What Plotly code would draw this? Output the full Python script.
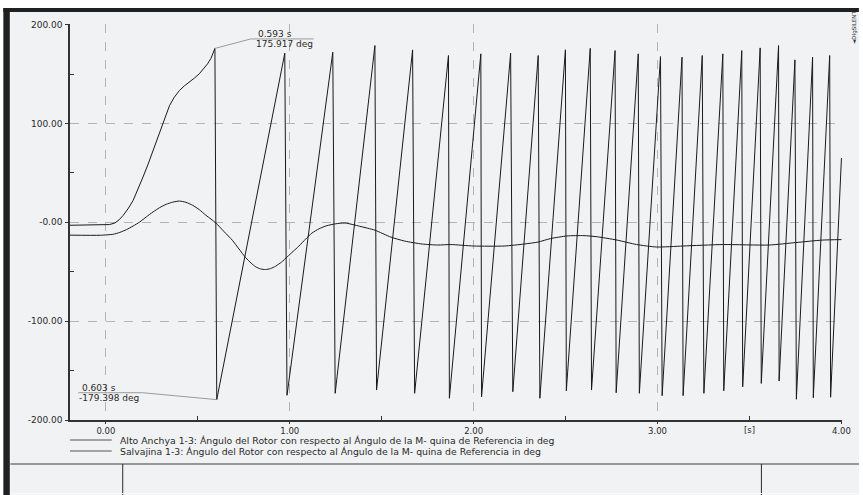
import plotly.graph_objects as go

# ---------------- data ----------------
series_names = [
    "Alto Anchya 1-3: Ángulo del Rotor con respecto al Ángulo de la M- quina de Referencia in deg",
    "Salvajina 1-3: Ángulo del Rotor con respecto al Ángulo de la M- quina de Referencia in deg",
]

# Alto Anchya 1-3 rotor angle (wraps between +180 and -180) [s], [deg]
alto_t = [-0.195, 0.0, 0.02, 0.049, 0.072, 0.094, 0.12, 0.148, 0.175, 0.202, 0.23, 0.256,
          0.28, 0.301, 0.324, 0.346, 0.372, 0.4, 0.427, 0.454, 0.481, 0.508, 0.532, 0.553,
          0.572, 0.583, 0.593, 0.603,
          0.973, 0.985, 1.234, 1.247, 1.463, 1.472, 1.668, 1.679, 1.863, 1.868,
          2.039, 2.043, 2.201, 2.213, 2.351, 2.360, 2.499, 2.504, 2.634, 2.641,
          2.769, 2.775, 2.895, 2.901, 3.016, 3.025, 3.133, 3.139, 3.243, 3.252,
          3.355, 3.360, 3.458, 3.463, 3.558, 3.564, 3.658, 3.661, 3.747, 3.755,
          3.843, 3.847, 3.936, 3.941, 4.0]
alto_v = [-3, -3, -2.3, -0.7, 2.5, 7, 13.5, 22, 33, 45.8, 59, 72.7,
          85, 96.3, 107.5, 118, 126.5, 133.3, 138, 141.7, 145.8, 150.2, 155, 160.3,
          166, 170.5, 175.917, -179.398,
          171, -175, 172, -173, 178.8, -169.7, 174.4, -173, 168.7, -178,
          170.4, -176.5, 171, -171.4, 168.7, -178, 174.5, -170.5, 176, -169.7,
          173.7, -172.4, 170.4, -173, 167.7, -175.4, 167, -175.4, 168.7, -173,
          170.4, -170.4, 173.7, -166.4, 176.4, -163, 178.8, -160.6, 164.3, -179,
          167, -177.5, 168.7, -177, 65]

# Salvajina 1-3 rotor angle [s], [deg]
salv_t = [-0.195, -0.03, 0.04, 0.076, 0.112, 0.148, 0.184, 0.22, 0.256, 0.292, 0.328, 0.364,
          0.4, 0.436, 0.472, 0.508, 0.544, 0.572, 0.598, 0.643, 0.688, 0.724, 0.76, 0.79,
          0.815, 0.842, 0.868, 0.896, 0.923, 0.955, 0.986, 1.018, 1.049, 1.085, 1.12, 1.16,
          1.2, 1.25, 1.3, 1.38, 1.463, 1.55, 1.625, 1.72, 1.805, 1.876, 2.0, 2.166, 2.274,
          2.35, 2.418, 2.508, 2.6, 2.67, 2.78, 2.886, 2.995, 3.139, 3.355, 3.607, 3.751,
          3.896, 4.0]
salv_v = [-13, -13.1, -12.1, -10.2, -7.4, -3.8, 0.3, 5.5, 10.4, 14.8, 18.2, 20.4,
          21.5, 20.2, 17.2, 12.8, 7.1, 3.2, -0.7, -9.5, -18.2, -27, -35.7, -41.3,
          -45.1, -47.2, -47.8, -46.8, -44.4, -40.3, -35, -29.5, -24.2, -17.2, -11, -6.5,
          -3.5, -1.5, -0.7, -4, -8, -15, -19, -22, -23, -22.5, -24, -24, -22,
          -20, -16.5, -13.8, -13.5, -14.6, -18, -22.5, -25, -24, -22.5, -23, -20.5,
          -18, -17.5]

x_tick_vals = [0, 1, 2, 3, 4]
x_tick_text = ["0.00", "1.00", "2.00", "3.00", "4.00"]
x_minor_vals = [0.5, 1.5, 2.5, 3.5]
x_unit_label = "[s]"
x_unit_pos = 3.5
y_tick_vals = [-200, -100, 0, 100, 200]
y_tick_text = ["-200.00", "-100.00", "-0.00", "100.00", "200.00"]
y_minor_vals = [-150, -50, 50, 150]

# marked points (peak before wrap, value after wrap)
mark_hi = (0.593, 175.917)
mark_lo = (0.603, -179.398)

# ---------------- layout helpers ----------------
W, H = 863, 495
L, R, T, B = 70, 17, 24, 75
PW, PH = W - L - R, H - T - B


def px(xp):
    return (xp - L) / PW


def py(yp):
    return (H - B - yp) / PH


FONT = "DejaVu Sans, Liberation Sans, sans-serif"
TXT = "#2a2a2a"
LINE = "#1a1a1a"
BG = "#f1f2f4"

fig = go.Figure()
fig.add_trace(go.Scatter(x=alto_t, y=alto_v, mode="lines", name=series_names[0],
                         line=dict(color=LINE, width=1), showlegend=False))
fig.add_trace(go.Scatter(x=salv_t, y=salv_v, mode="lines", name=series_names[1],
                         line=dict(color=LINE, width=1, shape="spline", smoothing=0.6), showlegend=False))

shapes = []
# background panel and frame
shapes.append(dict(type="rect", xref="paper", yref="paper", x0=px(10), x1=px(W), y0=py(H), y1=py(12),
                   fillcolor=BG, line=dict(width=0), layer="below"))
shapes.append(dict(type="rect", xref="paper", yref="paper", x0=px(3), x1=px(W), y0=py(12), y1=py(8),
                   fillcolor="#202020", line=dict(width=0)))
shapes.append(dict(type="rect", xref="paper", yref="paper", x0=px(3), x1=px(9.5), y0=py(H), y1=py(8),
                   fillcolor="#202020", line=dict(width=0)))
shapes.append(dict(type="line", xref="paper", yref="paper", x0=px(10), x1=px(W), y0=py(464), y1=py(464),
                   line=dict(color="#3a3a3a", width=1)))
for vx in (123, 765):
    shapes.append(dict(type="line", xref="paper", yref="paper", x0=px(vx), x1=px(vx), y0=py(464), y1=py(H),
                       line=dict(color="#2a2a2a", width=1)))
# faint light strip at the very bottom of the title block
shapes.append(dict(type="line", xref="paper", yref="paper", x0=px(10), x1=px(W), y0=py(493.5), y1=py(493.5),
                   line=dict(color="#fbfbfc", width=1)))

# marker leader lines
ANN = "#9a9a9a"
hx0, hx1, hy = 0.788, 1.13, 185.5
shapes.append(dict(type="line", x0=mark_hi[0], y0=mark_hi[1], x1=hx0, y1=hy, line=dict(color=ANN, width=1)))
shapes.append(dict(type="line", x0=hx0, y0=hy, x1=hx1, y1=hy, line=dict(color=ANN, width=1)))
lx0, lx1, ly = -0.15, 0.20, -172.4
shapes.append(dict(type="line", x0=mark_lo[0], y0=mark_lo[1], x1=lx1, y1=ly, line=dict(color=ANN, width=1)))
shapes.append(dict(type="line", x0=lx0, y0=ly, x1=lx1, y1=ly, line=dict(color=ANN, width=1)))

# legend samples
for i, ly_px in enumerate((440, 451)):
    shapes.append(dict(type="line", xref="paper", yref="paper", x0=px(70), x1=px(112),
                       y0=py(ly_px), y1=py(ly_px), line=dict(color="#555555", width=1)))

annotations = []
for i, ly_px in enumerate((440, 451)):
    annotations.append(dict(xref="paper", yref="paper", x=px(118), y=py(ly_px), text=series_names[i],
                            showarrow=False, xanchor="left", yanchor="middle",
                            font=dict(family=FONT, size=9.3, color=TXT)))

ann_font = dict(family=FONT, size=9, color=TXT)
annotations.append(dict(x=hx0 + 0.03, y=hy, text=f"{mark_hi[0]:.3f} s", showarrow=False,
                        xanchor="left", yanchor="bottom", yshift=-2, font=ann_font))
annotations.append(dict(x=hx0 + 0.02, y=hy, text=f"{mark_hi[1]:.3f} deg", showarrow=False,
                        xanchor="left", yanchor="top", yshift=2, font=ann_font))
annotations.append(dict(x=lx0 + 0.01, y=ly, text=f"{mark_lo[0]:.3f} s", showarrow=False,
                        xanchor="left", yanchor="bottom", yshift=-2, font=ann_font))
annotations.append(dict(x=lx0 - 0.005, y=ly, text=f"{mark_lo[1]:.3f} deg", showarrow=False,
                        xanchor="left", yanchor="top", yshift=2, font=ann_font))
annotations.append(dict(x=x_unit_pos, xref="x", yref="paper", y=0, text=x_unit_label, showarrow=False,
                        xanchor="center", yanchor="top", yshift=-3,
                        font=dict(family=FONT, size=8.5, color=TXT)))
annotations.append(dict(xref="paper", yref="paper", x=px(859), y=py(27), text="◄DIgSILENT", textangle=-90,
                        xanchor="center", yanchor="middle",
                        showarrow=False, font=dict(family=FONT, size=5.5, color="#333333")))

fig.update_layout(
    width=W, height=H, autosize=False,
    margin=dict(l=L, r=R, t=T, b=B, pad=0),
    paper_bgcolor="white", plot_bgcolor=BG,
    showlegend=False,
    shapes=shapes, annotations=annotations,
    font=dict(family=FONT, size=9, color=TXT),
)
fig.update_xaxes(
    range=[-0.195, 4.003], tickvals=x_tick_vals, ticktext=x_tick_text,
    showgrid=True, gridcolor="#b4b4b4", griddash="dash", gridwidth=1,
    showline=True, linecolor="#333333", linewidth=1.5, zeroline=False,
    ticks="outside", ticklen=2, tickcolor="#333333",
    tickfont=dict(family=FONT, size=8.5, color=TXT),
    minor=dict(tickvals=x_minor_vals, ticks="inside", ticklen=4, tickcolor="#333333", showgrid=False),
)
fig.update_yaxes(
    range=[-200, 200.6], tickvals=y_tick_vals, ticktext=y_tick_text,
    showgrid=True, gridcolor="#b4b4b4", griddash="dash", gridwidth=1,
    showline=True, linecolor="#333333", linewidth=1.5, zeroline=False,
    ticks="outside", ticklen=3, tickcolor="#333333", ticklabelstandoff=1,
    tickfont=dict(family=FONT, size=9, color=TXT),
    minor=dict(tickvals=y_minor_vals, ticks="inside", ticklen=4, tickcolor="#333333", showgrid=False),
)

fig.write_html("out.html", config={"displayModeBar": False},
               post_script="document.body.style.margin='0';document.body.style.overflow='hidden';")
